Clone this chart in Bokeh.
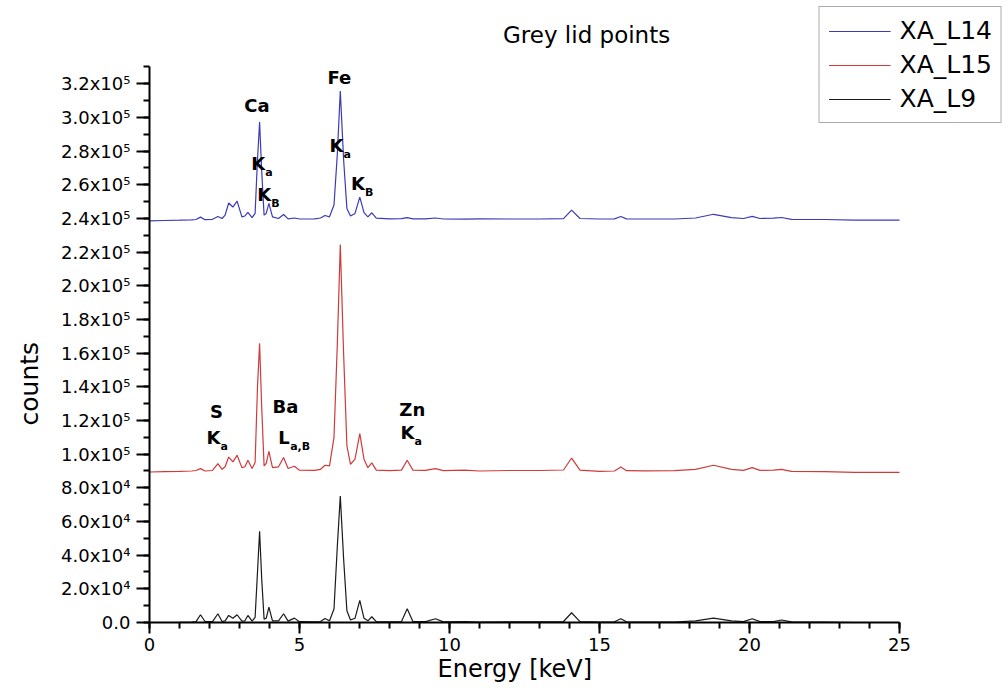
from bokeh.plotting import figure
from bokeh.models import Range1d, FixedTicker, Legend, LegendItem, Label, Title, ColumnDataSource
from bokeh.core.properties import value
from bokeh.embed import file_html
from bokeh.resources import INLINE

# ---------------- data ----------------
energy = [0.0, 0.5, 1.0, 1.4, 1.55, 1.7, 1.85, 2.1, 2.28, 2.42,
          2.52, 2.64, 2.78, 2.92, 3.08, 3.18, 3.28, 3.42, 3.52, 3.6,
          3.67, 3.74, 3.82, 3.89, 3.98, 4.1, 4.3, 4.47, 4.62, 4.83,
          5.0, 5.5, 5.7, 5.85, 6.0, 6.15, 6.26, 6.36, 6.47, 6.58,
          6.7, 6.85, 7.01, 7.15, 7.28, 7.41, 7.56, 8.0, 8.4, 8.59,
          8.78, 9.2, 9.53, 9.8, 10.5, 11.0, 12.0, 13.0, 13.8, 14.07,
          14.35, 15.0, 15.5, 15.71, 15.9, 16.5, 17.5, 18.2, 18.8, 19.4,
          19.8, 20.09, 20.35, 20.8, 21.07, 21.4, 22.5, 23.5, 25.0]

xa_l14 = [238600, 238800, 239000, 239200, 239400, 240800, 239300, 239500, 241200, 240000,
          242000, 249200, 246800, 250300, 241000, 241500, 243700, 240500, 243000, 275000,
          297300, 268000, 242000, 243000, 249000, 241000, 240000, 242400, 239800, 240300,
          239700, 239800, 240300, 241800, 241000, 248000, 278000, 315700, 275000, 246000,
          241500, 243000, 252700, 243500, 241000, 243400, 240200, 239800, 239900, 240500,
          239800, 239800, 240300, 239700, 239600, 239800, 239700, 239700, 239900, 245000,
          240000, 239700, 239800, 241200, 239800, 239700, 239700, 240300, 242500, 240500,
          240000, 241300, 240000, 240200, 240600, 239500, 239400, 239000, 239000]

xa_l15 = [89400, 89600, 89800, 90000, 90300, 91400, 90000, 90300, 94400, 91000,
          92500, 98300, 95400, 99300, 92000, 92500, 96400, 91500, 95000, 140000,
          165800, 128000, 93000, 94500, 101700, 92000, 92500, 98000, 91500, 92800,
          90500, 90400, 91000, 93400, 93000, 110000, 165000, 224600, 160000, 105000,
          94000, 97000, 112200, 97000, 92000, 94800, 90500, 90200, 90500, 96400,
          90500, 90400, 91400, 90200, 90500, 90000, 90300, 90300, 90600, 97700,
          90500, 89800, 90000, 92400, 90200, 90100, 90200, 91000, 93400, 91000,
          90400, 92000, 90400, 90500, 91000, 89800, 89600, 89200, 89200]

xa_l9 = [0, 0, 100, 300, 500, 4600, 600, 500, 5200, 600,
         1000, 4200, 2500, 4600, 800, 1000, 4200, 800, 3000, 30000,
         54200, 26000, 2000, 2500, 9100, 1000, 1000, 5200, 800, 2600,
         500, 400, 600, 2400, 1000, 8000, 45000, 75200, 38000, 7000,
         1500, 2500, 13100, 2500, 1000, 3400, 500, 400, 600, 8100,
         600, 500, 2200, 400, 500, 300, 400, 400, 600, 5800,
         500, 300, 400, 2200, 400, 300, 300, 1000, 2600, 1000,
         500, 2200, 500, 500, 1500, 400, 200, 0, 0]

series_names = ["XA_L14", "XA_L15", "XA_L9"]

x_ticks = [0, 5, 10, 15, 20, 25]
x_tick_labels = ["0", "5", "10", "15", "20", "25"]
y_ticks = [0, 20000, 40000, 60000, 80000, 100000, 120000, 140000, 160000,
           180000, 200000, 220000, 240000, 260000, 280000, 300000, 320000]
y_tick_labels = ["0.0", "2.0x10\u2074", "4.0x10\u2074", "6.0x10\u2074", "8.0x10\u2074",
                 "1.0x10\u2075", "1.2x10\u2075", "1.4x10\u2075", "1.6x10\u2075",
                 "1.8x10\u2075", "2.0x10\u2075", "2.2x10\u2075", "2.4x10\u2075",
                 "2.6x10\u2075", "2.8x10\u2075", "3.0x10\u2075", "3.2x10\u2075"]

title_text = "Grey lid points"
x_label = "Energy [keV]"
y_label = "counts"

# peak annotations (anchor in keV / counts)
element_names = ["Ca", "Fe", "S", "Ba", "Zn"]
element_x = [3.58, 6.33, 2.23, 4.53, 8.76]
element_y = [307300, 324000, 125500, 128500, 126700]

line_main = ["K", "K", "K", "K", "K", "L", "K"]
line_sub = ["a", "B", "a", "B", "a", "a,B", "a"]
line_x = [3.39, 3.59, 6.00, 6.72, 1.90, 4.29, 8.37]
line_y = [272700, 254300, 283400, 260900, 110000, 110000, 113000]

# ---------------- figure ----------------
FONT = "DejaVu Sans"
PX_PER_KEV = 30.0
FRAME_W = 1008 - 149

p = figure(width=1008, height=693,
           x_range=Range1d(0, FRAME_W / PX_PER_KEV),
           y_range=Range1d(0, 369500),
           output_backend="svg", toolbar_location=None,
           min_border_left=149, min_border_right=0,
           min_border_top=0, min_border_bottom=71)
p.outline_line_color = None
p.xgrid.visible = False
p.ygrid.visible = False
p.background_fill_color = "white"
p.border_fill_color = "white"

colors = ["#3b3bb8", "#d03a3a", "#1a1a1a"]
src = ColumnDataSource(dict(e=energy, a=xa_l14, b=xa_l15, c=xa_l9))
renderers = []
for col, colr in zip(["a", "b", "c"], colors):
    r = p.line("e", col, source=src, line_color=colr, line_width=1.2)
    renderers.append(r)

# axes
xa = p.xaxis[0]
xa.bounds = (0, 25)
xa.ticker = FixedTicker(ticks=x_ticks, minor_ticks=list(range(0, 26)))
xa.major_label_overrides = dict(zip(x_ticks, x_tick_labels))
ya = p.yaxis[0]
ya.bounds = (0, 330000)
ya.ticker = FixedTicker(ticks=y_ticks, minor_ticks=list(range(0, 330001, 10000)))
ya.major_label_overrides = dict(zip(y_ticks, y_tick_labels))

for ax in (xa, ya):
    ax.axis_line_width = 2
    ax.axis_line_color = "black"
    ax.major_tick_line_width = 2
    ax.minor_tick_line_width = 2
    ax.major_tick_line_color = "black"
    ax.minor_tick_line_color = "black"
    ax.major_tick_in = 0
    ax.minor_tick_in = 0
    ax.minor_tick_out = 6
    ax.major_label_text_font = FONT
    ax.major_label_text_font_size = "18px"
    ax.major_label_text_color = "black"

xa.major_tick_out = 11
xa.major_label_standoff = 4
ya.major_tick_out = 13
ya.major_label_standoff = 6

# axis titles placed as side titles so they sit centred on the bounded axes
p.add_layout(Title(text=x_label, align="left", offset=288, vertical_align="top",
                   standoff=2, text_font=FONT, text_font_size="24px",
                   text_font_style="normal", text_color="black"), "below")
p.add_layout(Title(text=y_label, align="left", offset=197, vertical_align="top",
                   standoff=26, text_font=FONT, text_font_size="25px",
                   text_font_style="normal", text_color="black"), "left")

# peak annotations
p.text(x=element_x, y=element_y, text=element_names,
       text_font=value(FONT), text_font_style="bold", text_font_size="18px",
       text_align="center", text_baseline="middle", text_color="black")
p.text(x=line_x, y=line_y, text=line_main,
       text_font=value(FONT), text_font_style="bold", text_font_size="18px",
       text_align="left", text_baseline="middle", text_color="black")
sub_dx = [14 if m == "K" else 12 for m in line_main]
p.text(x=line_x, y=line_y, text=line_sub, x_offset=sub_dx, y_offset=9,
       text_font=value(FONT), text_font_style="bold", text_font_size="11px",
       text_align="left", text_baseline="middle", text_color="black")

p.add_layout(Label(x=14.57, y=349300, text=title_text, text_font=FONT,
                   text_font_size="23px", text_align="center", text_baseline="middle",
                   text_color="black"))

legend = Legend(items=[LegendItem(label=n, renderers=[r]) for n, r in zip(series_names, renderers)],
                location="top_right", margin=6, padding=9, spacing=5,
                glyph_width=62, glyph_height=28, label_height=28, label_standoff=9,
                label_text_font=FONT, label_text_font_size="25px", label_text_color="black",
                border_line_color="#555555", border_line_width=1,
                background_fill_color="white", background_fill_alpha=1)
p.add_layout(legend)

open("out.html", "w").write(file_html(p, INLINE))
